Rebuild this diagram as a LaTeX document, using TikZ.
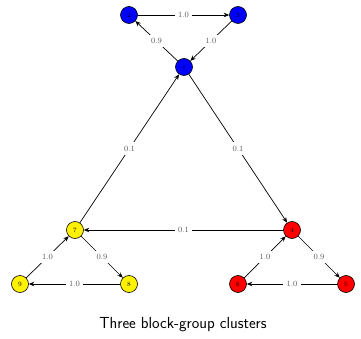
\documentclass[tikz,border=0pt]{standalone}
\usepackage{tikz}
\usetikzlibrary{arrows.meta}
\begin{document}
\begin{tikzpicture}[x=1pt,y=-1pt,
  vtx/.style={circle,draw=black,line width=0.6pt,minimum size=17pt,inner sep=0pt,font=\fontsize{6.5}{7}\selectfont},
  wt/.style={fill=white,inner sep=3.5pt,text=black!65,font=\fontsize{8}{9}\selectfont},
  arc/.style={-{Stealth[length=5.5pt,width=4.5pt]},line width=0.7pt}]
\useasboundingbox (0,0) rectangle (361,339);
\node[vtx,fill=blue] (n1) at (184,67) {1}; \node[vtx,fill=blue] (n2) at (129,15) {2}; \node[vtx,fill=blue] (n3) at (238,15) {3};
\node[vtx,fill=red] (n4) at (292,230) {4}; \node[vtx,fill=red] (n5) at (346,284) {5}; \node[vtx,fill=red] (n6) at (238,284) {6};
\node[vtx,fill=yellow] (n7) at (75,230) {7}; \node[vtx,fill=yellow] (n8) at (129,284) {8}; \node[vtx,fill=yellow] (n9) at (20,284) {9};
\draw[arc] (n2)--node[wt]{1.0}(n3); \draw[arc] (n3)--node[wt]{1.0}(n1); \draw[arc] (n1)--node[wt]{0.9}(n2);
\draw[arc] (n4)--node[wt]{0.9}(n5); \draw[arc] (n5)--node[wt]{1.0}(n6); \draw[arc] (n6)--node[wt]{1.0}(n4);
\draw[arc] (n7)--node[wt]{0.9}(n8); \draw[arc] (n8)--node[wt]{1.0}(n9); \draw[arc] (n9)--node[wt]{1.0}(n7);
\draw[arc] (n1)--node[wt]{0.1}(n4); \draw[arc] (n4)--node[wt]{0.1}(n7); \draw[arc] (n7)--node[wt]{0.1}(n1);
\node[anchor=base,font=\sffamily\fontsize{16}{18}\selectfont] (cap) at (183,328) {Three block-group clusters};
\end{tikzpicture}
\end{document}
